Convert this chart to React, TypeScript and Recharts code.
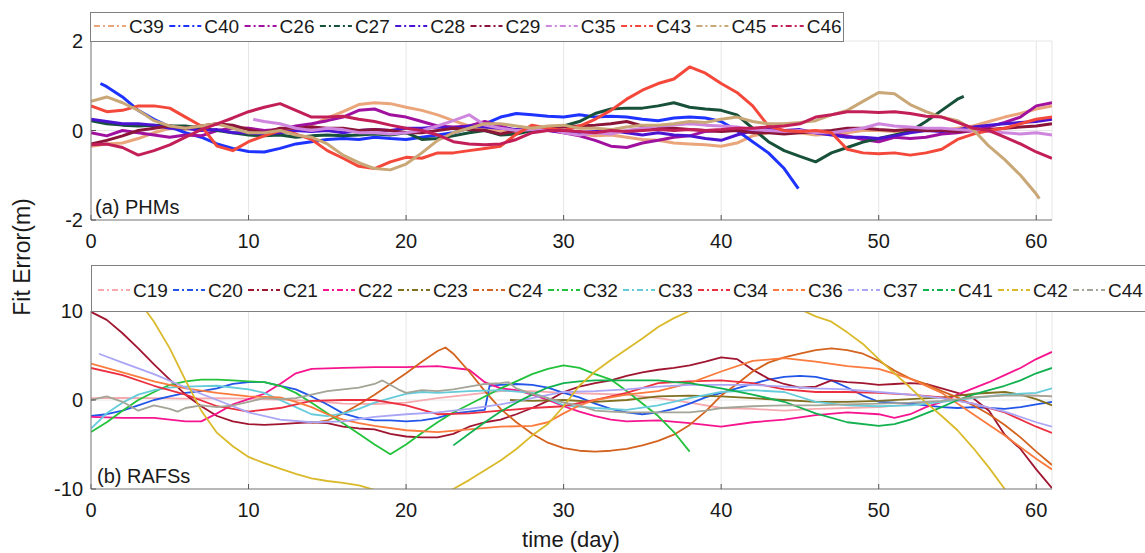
import React from 'react';
import { LineChart, Line, XAxis, YAxis, CartesianGrid } from 'recharts';

type Pt = [number, number];

// ---------- shared ticks ----------
const X_TICKS = [0, 10, 20, 30, 40, 50, 60];
const PHM_Y_TICKS = [-2, 0, 2];
const RAFS_Y_TICKS = [-10, 0, 10];

// ---------- (a) PHMs ----------
const DAYS_0_61 = [0,1,2,3,4,5,6,7,8,9,10,11,12,13,14,15,16,17,18,19,20,21,22,23,24,25,26,27,28,29,30,31,32,33,34,35,36,37,38,39,40,41,42,43,44,45,46,47,48,49,50,51,52,53,54,55,56,57,58,59,60,61];

const C39_V = [-0.35,-0.3,-0.28,-0.18,-0.05,0.05,0.02,0.1,0.15,0.08, 0.05,-0.02,0.0,0.05,0.12,0.28,0.42,0.58,0.62,0.6, 0.52,0.45,0.35,0.22,0.1,0.05,0.0,-0.05,0.0,0.02, -0.05,-0.08,-0.12,-0.1,-0.15,-0.2,-0.22,-0.28,-0.3,-0.32, -0.35,-0.28,-0.12,-0.05,0.0,-0.05,-0.1,-0.08,-0.05,0.0, 0.0,-0.02,0.0,0.02,0.0,0.05,0.1,0.2,0.3,0.38, 0.48,0.55];
const C40: Pt[] = [[0.6,1.05],[1,0.98],[2,0.75],[3,0.45],[4,0.25],[5,0.08],[6,-0.05],[7,-0.15],[8,-0.3],[9,-0.4],[10,-0.47],[11,-0.48],[12,-0.4],[13,-0.3],[14,-0.25],[15,-0.2],[16,-0.18],[17,-0.2],[18,-0.15],[19,-0.18],[20,-0.2],[21,-0.15],[22,-0.1],[23,-0.05],[24,0.05],[25,0.15],[26,0.3],[27,0.38],[28,0.35],[29,0.32],[30,0.3],[31,0.35],[32,0.3],[33,0.32],[34,0.3],[35,0.25],[36,0.22],[37,0.28],[38,0.3],[39,0.28],[40,0.2],[41,0.0],[42,-0.25],[43,-0.5],[44,-0.85],[44.9,-1.3]];
const C26_V = [-0.05,-0.12,0.0,-0.05,-0.1,-0.15,-0.1,-0.12,0.0,0.05, 0.05,0.0,0.02,0.1,0.15,0.22,0.3,0.45,0.48,0.35, 0.3,0.2,0.1,0.08,0.1,0.2,0.1,0.0,0.02,0.0, -0.05,-0.12,-0.22,-0.35,-0.38,-0.28,-0.22,-0.15,-0.12,-0.02, 0.0,0.02,-0.02,0.0,-0.05,0.0,-0.05,-0.08,-0.12,-0.2, -0.25,-0.15,-0.18,-0.15,-0.08,-0.05,0.0,0.08,0.18,0.3, 0.55,0.62];
const C27_DAYS = [0,1,2,3,4,5,6,7,8,9,10,11,12,13,14,15,16,17,18,19,20,21,22,23,24,25,26,27,28,29,30,31,32,33,34,35,36,37,38,39,40,41,42,43,44,45,46,47,48,49,50,51,52,53,54,55,55.4];
const C27_V = [0.22,0.15,0.12,0.1,0.12,0.1,0.1,0.05,0.0,-0.05, -0.1,-0.12,-0.1,-0.15,-0.12,-0.1,-0.12,-0.1,-0.08,-0.1, -0.05,-0.2,-0.18,-0.12,-0.05,0.0,-0.1,-0.08,0.0,0.05, 0.1,0.2,0.38,0.48,0.5,0.5,0.55,0.62,0.52,0.48, 0.45,0.35,0.05,-0.25,-0.45,-0.58,-0.7,-0.5,-0.38,-0.26, -0.18,-0.1,-0.02,0.2,0.45,0.7,0.76];
const C28_V = [0.25,0.2,0.15,0.15,0.12,0.05,0.05,0.0,0.02,-0.05, -0.05,-0.08,-0.05,0.0,-0.02,0.0,-0.05,0.0,0.02,0.0, 0.05,0.05,0.08,0.05,0.1,0.08,0.05,0.02,0.05,0.0, -0.02,-0.05,-0.02,0.0,-0.05,-0.1,-0.05,-0.1,-0.12,-0.18, -0.22,-0.1,0.0,0.02,0.0,0.02,-0.05,-0.1,-0.15,-0.15, -0.18,-0.12,-0.05,0.0,-0.02,0.02,0.08,0.12,0.15,0.18, 0.2,0.25];
const C29_V = [-0.3,-0.22,-0.12,0.0,0.05,0.1,0.05,0.1,0.15,0.12, 0.02,-0.05,0.05,0.05,0.08,0.05,0.05,0.0,0.02,0.0, -0.05,-0.05,0.0,0.05,0.02,0.0,-0.08,0.0,0.02,0.05, 0.08,0.1,0.12,0.15,0.2,0.1,0.05,0.05,0.02,0.0, -0.02,0.0,-0.05,-0.05,-0.08,-0.05,-0.02,0.0,0.05,0.05, 0.02,0.0,0.02,0.0,0.0,-0.02,0.0,0.02,0.05,0.08, 0.1,0.15];
const C35: Pt[] = [[10.3,0.25],[11,0.2],[12,0.15],[13,0.05],[14,0.0],[15,0.05],[16,0.02],[17,-0.05],[18,-0.05],[19,-0.08],[20,-0.05],[21,0.0],[22,0.1],[23,0.22],[24,0.35],[25,0.12],[26,0.05],[27,0.0],[28,0.02],[29,0.05],[30,-0.05],[31,-0.1],[32,-0.05],[33,-0.08],[34,0.0],[35,0.05],[36,0.1],[37,0.12],[38,0.15],[39,0.12],[40,0.1],[41,0.08],[42,0.02],[43,0.0],[44,-0.02],[45,0.0],[46,-0.05],[47,-0.05],[48,0.0],[49,0.05],[50,0.15],[51,0.1],[52,0.08],[53,0.05],[54,0.05],[55,0.02],[56,0.0],[57,-0.02],[58,-0.05],[59,-0.08],[60,-0.05],[61,-0.1]];
const C43_V = [0.55,0.42,0.45,0.55,0.55,0.5,0.3,0.1,-0.35,-0.45, -0.25,-0.12,0.0,-0.08,-0.2,-0.45,-0.62,-0.8,-0.85,-0.7, -0.6,-0.62,-0.5,-0.5,-0.45,-0.4,-0.35,-0.08,0.12,0.05, 0.0,0.1,0.25,0.45,0.7,0.9,1.05,1.15,1.42,1.28, 1.05,0.85,0.55,0.1,0.0,-0.02,0.0,-0.05,-0.42,-0.5, -0.52,-0.5,-0.55,-0.5,-0.42,-0.2,-0.08,0.0,0.05,0.15, 0.25,0.3];
const C45_DAYS = [0,1,2,3,4,5,6,7,8,9,10,11,12,13,14,15,16,17,18,19,20,21,22,23,24,25,26,27,28,29,30,31,32,33,34,35,36,37,38,39,40,41,42,43,44,45,46,47,48,49,50,51,52,53,54,55,56,57,58,59,60,60.2];
const C45_V = [0.65,0.75,0.62,0.45,0.22,0.1,0.05,0.1,0.15,0.05, -0.05,-0.05,0.0,-0.1,-0.15,-0.3,-0.55,-0.72,-0.85,-0.88, -0.75,-0.5,-0.22,-0.05,0.05,0.15,0.15,0.1,0.05,0.1, 0.12,0.05,0.05,0.02,0.08,0.12,0.12,0.15,0.2,0.18, 0.25,0.3,0.2,0.15,0.15,0.18,0.22,0.35,0.45,0.65, 0.85,0.82,0.58,0.42,0.3,0.22,0.02,-0.35,-0.65,-1.0, -1.42,-1.52];
const C46_V = [-0.32,-0.3,-0.38,-0.55,-0.45,-0.32,-0.15,0.02,0.15,0.28, 0.42,0.52,0.6,0.45,0.3,0.3,0.32,0.25,0.2,0.12, 0.05,0.0,-0.1,-0.25,-0.3,-0.32,-0.3,-0.2,-0.05,0.0, 0.0,-0.02,-0.05,0.0,-0.02,0.0,0.02,0.0,0.02,0.0, 0.02,0.05,0.05,0.08,0.1,0.15,0.3,0.35,0.42,0.42, 0.4,0.42,0.38,0.32,0.3,0.18,0.05,0.0,-0.15,-0.3, -0.48,-0.62];

// ---------- (b) RAFSs ----------
const C19: Pt[] = [[0,0.2],[2,0.25],[4,0.2],[6,0.15],[8,0.2],[10,0.15],[12,0.05],[14,-0.1],[16,-0.4],[18,-0.45],[20,-0.3],[22,0.2],[24,0.6],[26,1.0],[28,1.0],[30,0.8],[32,0.7],[34,0.6],[36,0.2],[38,-0.3],[40,-0.9],[42,-1.0],[44,-1.2],[46,-1.0],[48,-0.9],[50,-0.8],[52,-0.5],[54,-0.2],[56,0.3],[58,0.6],[60,0.5],[61,0.4]];
const C20: Pt[] = [[0,-1.8],[1,-1.6],[2,-1.2],[3,-0.6],[4,0.0],[5,0.4],[6,0.8],[7,1.0],[8,1.3],[9,1.8],[10,2.0],[11,2.0],[12,1.6],[13,1.2],[14,0.4],[15,-0.5],[16,-1.5],[17,-2.0],[18,-2.3],[19,-2.3],[20,-2.4],[21,-2.3],[22,-2.0],[23,-1.5],[24,-1.3],[25,-1.1],[25.3,1.6],[26,1.7],[27,1.8],[28,1.7],[29,1.4],[30,0.8],[31,0.3],[32,-0.4],[33,-1.0],[34,-1.4],[35,-1.6],[36,-1.4],[37,-1.0],[38,-0.4],[39,0.3],[40,0.8],[41,1.3],[42,1.8],[43,2.3],[44,2.6],[45,2.7],[46,2.6],[47,2.2],[48,1.4],[49,0.5],[50,-0.2],[51,-0.3],[52,-0.4],[53,-0.6],[54,-0.8],[55,-0.9],[56,-0.8],[57,-0.9],[58,-1.0],[59,-0.8],[60,-0.5],[61,-0.2]];
const C21: Pt[] = [[0,9.9],[1,9.0],[2,7.5],[3,5.8],[4,4.0],[5,2.3],[6,0.6],[7,-0.7],[8,-1.8],[9,-2.4],[10,-2.7],[11,-2.8],[12,-2.7],[13,-2.6],[14,-2.5],[15,-2.6],[16,-3.0],[17,-3.2],[18,-3.3],[19,-3.8],[20,-4.1],[21,-4.2],[22,-4.2],[23,-3.8],[24,-3.0],[25,-2.5],[26,-2.2],[27,-1.6],[28,-0.9],[29,-0.1],[30,0.9],[31,1.5],[32,1.9],[33,2.2],[34,2.7],[35,3.1],[36,3.4],[37,3.6],[38,3.9],[39,4.3],[40,4.8],[41,4.6],[42,3.4],[43,2.4],[44,1.8],[45,1.4],[46,1.5],[47,2.2],[48,2.0],[49,1.9],[50,1.7],[51,1.8],[52,1.9],[53,1.8],[54,1.3],[55,0.8],[56,0.2],[57,-1.2],[58,-3.9],[59,-5.5],[60,-7.8],[61,-9.9]];
const C22: Pt[] = [[0,-1.9],[2,-2.0],[4,-2.0],[6,-2.4],[7,-2.4],[8,-1.5],[9,-0.5],[10,0.1],[11,0.7],[12,1.8],[13,3.0],[14,3.5],[16,3.6],[18,3.7],[20,3.7],[22,3.8],[24,3.4],[25,2.0],[26,1.3],[27,1.1],[28,0.6],[29,0.0],[30,-0.7],[31,-1.3],[32,-1.8],[33,-2.2],[34,-2.4],[36,-2.3],[38,-2.6],[40,-3.0],[42,-2.5],[44,-2.2],[46,-1.7],[48,-1.4],[50,-1.6],[51,-2.0],[52,-1.6],[53,-0.8],[54,-0.2],[55,0.6],[56,1.3],[57,2.0],[58,2.8],[59,3.6],[60,4.6],[61,5.4]];
const C23: Pt[] = [[26.6,0.0],[28,-0.1],[30,0.0],[32,-0.2],[34,0.0],[36,0.4],[38,0.5],[40,0.4],[42,0.2],[44,0.0],[46,-0.2],[48,-0.2],[50,-0.1],[52,0.1],[54,0.3],[56,0.7],[58,0.9],[59,0.6],[60,0.1],[61,-0.6]];
const C24: Pt[] = [[14,-2.6],[15,-2.3],[16,-1.5],[17,-0.5],[18,0.6],[19,1.8],[20,3.0],[21,4.3],[22,5.5],[22.5,5.9],[23,5.2],[24,3.2],[25,1.0],[26,-1.0],[27,-2.5],[28,-3.8],[29,-4.8],[30,-5.4],[31,-5.7],[32,-5.8],[33,-5.7],[34,-5.5],[35,-5.1],[36,-4.6],[37,-3.9],[38,-2.8],[39,-1.3],[40,0.5],[41,1.8],[42,3.2],[43,4.2],[44,4.8],[45,5.2],[46,5.6],[47,5.8],[48,5.6],[49,5.2],[50,4.4],[51,3.3],[52,2.4],[53,1.8],[54,1.0],[55,0.3],[56,-0.6],[57,-1.6],[58,-2.8],[59,-4.2],[60,-5.8],[61,-7.3]];
const C32: Pt[] = [[0,-3.6],[1,-2.5],[2,-1.2],[3,0.0],[4,0.9],[5,1.7],[6,2.1],[7,2.3],[8,2.3],[9,2.2],[10,2.1],[11,2.0],[12,1.6],[13,0.8],[14,-0.3],[15,-1.5],[16,-2.6],[17,-3.8],[18,-5.0],[19,-6.1],[20,-5.0],[21,-3.7],[22,-2.5],[23,-1.4],[24,-0.5],[25,0.4],[26,1.3],[27,2.1],[28,2.9],[29,3.5],[30,3.9],[31,3.6],[32,2.9],[33,2.3],[34,1.0],[35,-0.4],[36,-1.8],[37,-3.6],[38,-5.8]];
const C33: Pt[] = [[0,-3.2],[1,-1.5],[2,-0.3],[3,0.6],[4,1.1],[5,1.4],[6,1.5],[8,1.6],[10,1.2],[11,0.8],[12,0.0],[13,-0.8],[14,-1.6],[15,-1.8],[16,-1.5],[17,-1.0],[18,-0.3],[19,0.2],[20,0.7],[21,0.9],[22,0.8],[24,1.0],[26,1.1],[28,0.8],[29,0.2],[30,-0.6],[32,-0.9],[34,-1.1],[36,-0.6],[38,0.2],[40,0.9],[42,1.1],[44,0.9],[46,-0.2],[48,-0.6],[50,-0.7],[52,-0.6],[54,-0.2],[56,0.2],[58,0.6],[60,0.8],[61,1.3]];
const C34: Pt[] = [[0,3.6],[2,2.8],[4,1.6],[6,0.6],[8,-0.7],[10,-1.3],[12,-0.9],[14,-0.1],[16,0.0],[18,0.0],[20,-0.6],[22,-1.6],[24,-1.5],[26,-1.2],[28,-0.9],[30,-0.7],[32,0.0],[34,0.8],[36,1.9],[38,2.1],[40,2.2],[42,1.9],[44,1.2],[46,0.9],[48,0.9],[50,0.8],[52,0.6],[54,0.3],[56,-0.4],[58,-1.4],[60,-3.0],[61,-3.7]];
const C36: Pt[] = [[0,4.1],[2,3.1],[4,2.1],[6,1.3],[8,0.8],[10,0.4],[12,0.3],[13,-0.2],[14,-0.8],[15,-1.6],[16,-2.2],[17,-2.6],[18,-2.9],[20,-3.4],[22,-3.6],[24,-3.3],[26,-3.0],[28,-2.9],[29,-2.5],[30,-1.5],[31,-0.6],[32,0.0],[34,0.6],[36,1.0],[38,1.9],[40,3.2],[42,4.4],[44,4.7],[46,4.3],[48,3.8],[50,3.5],[52,2.4],[54,0.8],[56,-1.6],[58,-4.0],[60,-6.6],[61,-7.8]];
const C37: Pt[] = [[0.5,5.2],[2,4.2],[4,2.9],[6,1.4],[8,0.0],[10,-1.4],[12,-2.2],[14,-2.5],[16,-2.4],[18,-1.9],[20,-1.6],[22,-1.4],[24,-1.0],[26,-0.5],[28,0.2],[30,0.9],[32,1.0],[34,1.2],[36,1.5],[38,1.7],[40,1.7],[42,1.7],[44,1.5],[46,1.3],[48,1.2],[50,0.9],[52,0.6],[54,0.2],[56,-0.4],[58,-1.3],[60,-2.5],[61,-3.0]];
const C41: Pt[] = [[23,-5.1],[24,-3.8],[25,-2.5],[26,-1.3],[27,-0.3],[28,0.6],[29,1.4],[30,1.9],[31,2.1],[32,2.2],[34,2.2],[36,2.2],[37,2.0],[38,1.9],[40,1.3],[42,0.6],[44,-0.2],[46,-1.5],[48,-2.5],[50,-2.9],[51,-2.7],[52,-2.2],[53,-1.5],[54,-0.8],[55,0.0],[56,0.6],[57,1.1],[58,1.6],[59,2.2],[60,3.0],[61,3.6]];
const C42: Pt[] = [[3,11.3],[3.5,10.0],[4,8.8],[5,5.8],[6,2.2],[7,-1.2],[8,-3.7],[9,-5.2],[10,-6.4],[11,-7.1],[12,-7.7],[13,-8.3],[14,-8.8],[15,-9.1],[16,-9.3],[17,-9.6],[18,-10.1],[20,-10.8],[22,-10.6],[23,-10.0],[24,-9.0],[25,-7.9],[26,-6.8],[27,-5.5],[28,-4.0],[29,-2.7],[30,-0.7],[31,1.6],[32,3.2],[33,4.5],[34,5.7],[35,6.9],[36,8.2],[37,9.2],[38,10.0],[39,10.8],[41,11.8],[43,11.5],[45,10.2],[46,9.4],[47,8.8],[48,7.6],[49,6.3],[50,4.6],[51,3.0],[52,1.4],[53,-0.3],[54,-1.8],[55,-3.4],[56,-5.4],[57,-7.6],[58,-10.0],[58.5,-11.2]];
const C44: Pt[] = [[0,0.0],[1,0.4],[2,-0.2],[3,-1.2],[4,-0.6],[5,-1.0],[5.5,-1.3],[6,-0.9],[7,-0.6],[8,-0.8],[9,-0.6],[10,-0.2],[11,0.2],[12,0.1],[13,0.2],[14,0.6],[15,1.0],[16,1.2],[17,1.4],[18,1.8],[18.5,2.2],[19.5,1.2],[20,0.8],[21,1.1],[22,1.0],[23,1.2],[24,1.5],[25,1.8],[26,1.9],[26.5,2.0],[27,1.3],[28,0.7],[29,0.2],[30,-0.3],[31,-0.6],[32,-1.2],[33,-1.3],[34,-1.4],[36,-1.4],[38,-1.4],[39,-1.2],[40,-0.9],[42,-0.7],[44,-0.6],[46,-0.6],[48,-0.5],[50,-0.4],[52,-0.3],[54,-0.1],[56,0.3],[58,0.5],[60,0.5],[61,0.4]];

// ---------- helpers ----------
const zip = (days: number[], vals: number[]) => days.map((d, i) => ({ x: d, y: vals[i] }));
const fromPairs = (pts: Pt[]) => pts.map(([x, y]) => ({ x, y }));

type Series = { name: string; color: string; data: { x: number; y: number }[] };

const PHM_SERIES: Series[] = [
  { name: 'C39', color: '#EAA67A', data: zip(DAYS_0_61, C39_V) },
  { name: 'C40', color: '#1E33FF', data: fromPairs(C40) },
  { name: 'C26', color: '#A1119F', data: zip(DAYS_0_61, C26_V) },
  { name: 'C27', color: '#18513A', data: zip(C27_DAYS, C27_V) },
  { name: 'C28', color: '#4B14D2', data: zip(DAYS_0_61, C28_V) },
  { name: 'C29', color: '#8B1539', data: zip(DAYS_0_61, C29_V) },
  { name: 'C35', color: '#CF86DF', data: fromPairs(C35) },
  { name: 'C43', color: '#F3483A', data: zip(DAYS_0_61, C43_V) },
  { name: 'C45', color: '#C9A777', data: zip(C45_DAYS, C45_V) },
  { name: 'C46', color: '#C21F58', data: zip(DAYS_0_61, C46_V) },
];

const RAFS_SERIES: Series[] = [
  { name: 'C19', color: '#F6AAB0', data: fromPairs(C19) },
  { name: 'C20', color: '#2256E8', data: fromPairs(C20) },
  { name: 'C21', color: '#A01631', data: fromPairs(C21) },
  { name: 'C22', color: '#F7158F', data: fromPairs(C22) },
  { name: 'C23', color: '#80701F', data: fromPairs(C23) },
  { name: 'C24', color: '#D4631F', data: fromPairs(C24) },
  { name: 'C32', color: '#23C23B', data: fromPairs(C32) },
  { name: 'C33', color: '#66CCDA', data: fromPairs(C33) },
  { name: 'C34', color: '#EC2F40', data: fromPairs(C34) },
  { name: 'C36', color: '#FA7B3D', data: fromPairs(C36) },
  { name: 'C37', color: '#AAA6F5', data: fromPairs(C37) },
  { name: 'C41', color: '#12B14F', data: fromPairs(C41) },
  { name: 'C42', color: '#DABA2B', data: fromPairs(C42) },
  { name: 'C44', color: '#A4A497', data: fromPairs(C44) },
];

const FONT = '"Liberation Sans", Arial, Helvetica, sans-serif';
const AXIS_GRAY = '#7f7f7f';
const TEXT = '#1a1a1a';

function LegendBox(props: { items: Series[]; left: number; top: number; width: number; height: number; startX: number; pitch: number; baseline: number }) {
  const { items, left, top, width, height, startX, pitch, baseline } = props;
  return (
    <div style={{ position: 'absolute', left, top, width, height, border: `1px solid ${AXIS_GRAY}`, background: '#fff', boxSizing: 'border-box', overflow: 'hidden' }}>
      <svg width={width} height={height} style={{ display: 'block' }}>
        {items.map((s, i) => {
          const x0 = startX + i * pitch;
          const ly = baseline - 7;
          return (
            <g key={s.name}>
              <line x1={x0} x2={x0 + 32} y1={ly} y2={ly} stroke={s.color} strokeWidth={2} strokeDasharray="6 3 2 3" />
              <text x={x0 + 35} y={baseline} fontSize={19} fill={TEXT} fontFamily={FONT}>{s.name}</text>
            </g>
          );
        })}
      </svg>
    </div>
  );
}

function Panel(props: { series: Series[]; height: number; marginTop: number; xAxisHeight: number; yDomain: [number, number]; yTicks: number[]; strokeWidth: number }) {
  const { series, height, marginTop, xAxisHeight, yDomain, yTicks, strokeWidth } = props;
  return (
    <LineChart width={1145} height={height} margin={{ top: marginTop, right: 93, bottom: 0, left: 0 }}>
      <CartesianGrid stroke="#e6e6e6" strokeWidth={1} />
      <XAxis
        dataKey="x"
        type="number"
        domain={[0, 61]}
        ticks={X_TICKS}
        interval={0}
        allowDataOverflow
        height={xAxisHeight}
        tickSize={-5}
        tickMargin={19}
        axisLine={{ stroke: AXIS_GRAY }}
        tickLine={{ stroke: '#555' }}
        tick={{ fill: TEXT, fontSize: 20, fontFamily: FONT }}
      />
      <XAxis
        xAxisId="top"
        orientation="top"
        dataKey="x"
        type="number"
        domain={[0, 61]}
        ticks={X_TICKS}
        interval={0}
        allowDataOverflow
        height={0}
        tickSize={-5}
        tick={false}
        axisLine={{ stroke: AXIS_GRAY }}
        tickLine={{ stroke: '#555' }}
      />
      <YAxis
        type="number"
        domain={yDomain}
        ticks={yTicks}
        interval={0}
        allowDataOverflow
        width={91}
        tickSize={-5}
        tickMargin={13}
        axisLine={{ stroke: AXIS_GRAY }}
        tickLine={{ stroke: '#555' }}
        tick={{ fill: TEXT, fontSize: 20, fontFamily: FONT }}
      />
      <YAxis
        yAxisId="right"
        orientation="right"
        type="number"
        domain={yDomain}
        ticks={yTicks}
        interval={0}
        allowDataOverflow
        width={0}
        tickSize={-5}
        tick={false}
        axisLine={{ stroke: AXIS_GRAY }}
        tickLine={{ stroke: '#555' }}
      />
      {series.map((s) => (
        <Line
          key={s.name}
          name={s.name}
          data={s.data}
          dataKey="y"
          type="linear"
          stroke={s.color}
          strokeWidth={strokeWidth}
          dot={false}
          activeDot={false}
          isAnimationActive={false}
          strokeLinejoin="round"
        />
      ))}
    </LineChart>
  );
}

export default function App() {
  return (
    <div style={{ position: 'absolute', left: 0, top: 0, width: 1145, height: 553, background: '#fff', overflow: 'hidden', fontFamily: FONT }}>
      <div style={{ position: 'absolute', left: 0, top: 0 }}>
        <Panel series={PHM_SERIES} height={260} marginTop={41} xAxisHeight={40} yDomain={[-2, 2]} yTicks={PHM_Y_TICKS} strokeWidth={3} />
      </div>
      <div style={{ position: 'absolute', left: 0, top: 250 }}>
        <Panel series={RAFS_SERIES} height={303} marginTop={61} xAxisHeight={64} yDomain={[-10, 10]} yTicks={RAFS_Y_TICKS} strokeWidth={1.8} />
      </div>
      <LegendBox items={PHM_SERIES} left={90} top={12} width={754} height={30} startX={3} pitch={75.3} baseline={20} />
      <LegendBox items={RAFS_SERIES} left={91} top={265} width={1080} height={47} startX={6} pitch={75} baseline={31} />
      <svg width={1145} height={553} style={{ position: 'absolute', left: 0, top: 0, pointerEvents: 'none' }}>
        <text x={95} y={214} fontSize={20} fill={TEXT} fontFamily={FONT}>(a) PHMs</text>
        <text x={97} y={483} fontSize={20} fill={TEXT} fontFamily={FONT}>(b) RAFSs</text>
        <text x={571} y={547} fontSize={22} fill={TEXT} fontFamily={FONT} textAnchor="middle">time (day)</text>
        <text x={30} y={257} fontSize={23} fill={TEXT} fontFamily={FONT} textAnchor="middle" transform="rotate(-90 30 257)">Fit Error(m)</text>
      </svg>
    </div>
  );
}
